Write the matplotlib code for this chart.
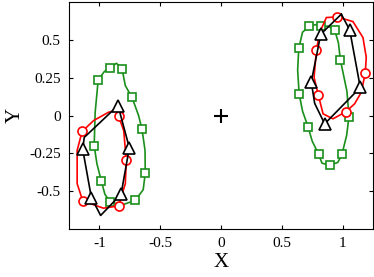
import matplotlib
matplotlib.use("Agg")
import matplotlib.pyplot as plt

plt.rcParams['font.family'] = ['Liberation Serif', 'DejaVu Serif']

# left cluster (x, y) -- markers drawn at the listed indices
green_l_x = [-1.01, -0.96, -0.915, -0.86, -0.814, -0.787, -0.732, -0.678, -0.65, -0.625,
             -0.623, -0.64, -0.705, -0.81, -0.91, -0.955, -0.984, -1.02, -1.043, -1.035, -1.01]
green_l_y = [0.235, 0.29, 0.314, 0.345, 0.309, 0.197, 0.12, 0.0, -0.09, -0.23,
             -0.38, -0.49, -0.56, -0.59, -0.572, -0.52, -0.434, -0.32, -0.20, 0.02, 0.235]
green_l_mk = [0, 2, 4, 6, 8, 10, 12, 14, 16, 18]

red_l_x = [-0.842, -0.80, -0.779, -0.787, -0.842, -0.967, -1.137, -1.183, -1.183, -1.142,
           -1.047, -0.924, -0.855, -0.842]
red_l_y = [-0.005, -0.10, -0.296, -0.45, -0.597, -0.612, -0.564, -0.45, -0.23, -0.105,
           -0.033, 0.022, 0.033, -0.005]
red_l_mk = [0, 2, 4, 6, 9]

black_l_x = [-0.847, -0.754, -0.822, -0.99, -1.066, -1.137, -1.125, -0.847]
black_l_y = [0.066, -0.213, -0.52, -0.66, -0.542, -0.224, -0.145, 0.066]
black_l_mk = [0, 1, 2, 4, 5]

# right cluster
green_r_x = [0.724, 0.775, 0.825, 0.88, 0.934, 0.965, 0.981, 1.035, 1.052, 1.033,
             0.994, 0.96, 0.893, 0.83, 0.803, 0.75, 0.716, 0.67, 0.642, 0.63, 0.639, 0.67, 0.724]
green_r_y = [0.588, 0.60, 0.588, 0.59, 0.566, 0.48, 0.368, 0.16, -0.007, -0.13,
             -0.257, -0.31, -0.327, -0.315, -0.257, -0.17, -0.077, 0.03, 0.143, 0.30, 0.443, 0.55, 0.588]
green_r_mk = [0, 2, 4, 6, 8, 10, 12, 14, 16, 18, 20]

red_r_x = [0.956, 1.085, 1.167, 1.194, 1.186, 1.153, 1.098, 1.025, 0.92, 0.839,
           0.80, 0.765, 0.784, 0.811, 0.866, 0.956]
red_r_y = [0.651, 0.62, 0.515, 0.384, 0.281, 0.153, 0.077, 0.024, -0.022, 0.011,
           0.134, 0.252, 0.432, 0.548, 0.647, 0.651]
red_r_mk = [0, 4, 7, 10, 12]

black_r_x = [0.989, 1.058, 1.145, 0.852, 0.77, 0.742, 0.82, 0.989]
black_r_y = [0.669, 0.565, 0.185, -0.055, 0.08, 0.222, 0.537, 0.669]
black_r_mk = [1, 2, 3, 5, 6]

green = (0.1, 0.56, 0.1)

fig = plt.figure(figsize=(3.74, 2.77), dpi=100)
ax = fig.add_axes([0.1845, 0.173, 0.813, 0.82])

for gx, gy, mk in [(green_l_x, green_l_y, green_l_mk), (green_r_x, green_r_y, green_r_mk)]:
    ax.plot(gx, gy, '-s', color=green, lw=1.2, ms=5.8, mfc='white', mew=1.2, markevery=mk)
for rx, ry, mk in [(red_l_x, red_l_y, red_l_mk), (red_r_x, red_r_y, red_r_mk)]:
    ax.plot(rx, ry, '-o', color='red', lw=1.2, ms=6.5, mfc='white', mew=1.2, markevery=mk)
for bx, by, mk in [(black_l_x, black_l_y, black_l_mk), (black_r_x, black_r_y, black_r_mk)]:
    ax.plot(bx, by, '-^', color='black', lw=1.2, ms=8, mfc='white', mew=1.2, markevery=mk)

ax.plot([0], [0], '+', color='black', ms=10, mew=1.5)

ax.set_xlim(-1.25, 1.25)
ax.set_ylim(-0.75, 0.75)
ax.set_xticks([-1, -0.5, 0, 0.5, 1])
ax.set_xticklabels(['-1', '-0.5', '0', '0.5', '1'])
ax.set_yticks([-0.5, -0.25, 0, 0.25, 0.5])
ax.set_yticklabels(['-0.5', '-0.25', '0', '0.25', '0.5'])
ax.tick_params(direction='in', top=True, right=True, labelsize=11, length=3, width=0.8, pad=6)
ax.set_xlabel('X', fontsize=15, labelpad=2)
ax.set_ylabel('Y', fontsize=15, labelpad=3)
for s in ax.spines.values():
    s.set_linewidth(0.8)

fig.savefig('out.png', dpi=100)
